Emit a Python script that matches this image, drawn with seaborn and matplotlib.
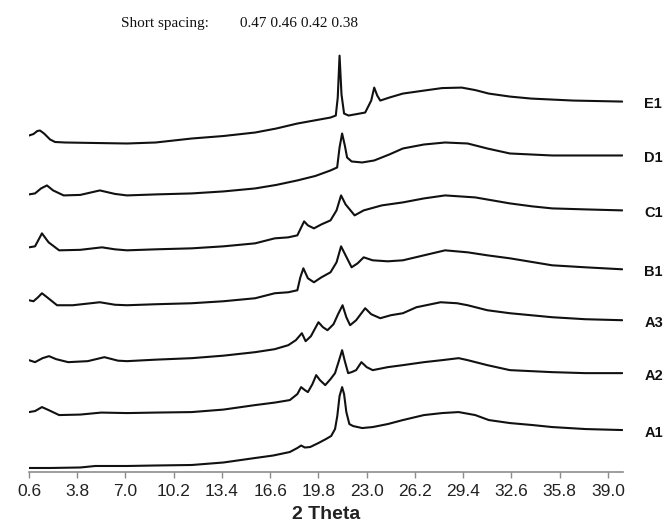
# XRD patterns, stacked

import numpy as np
import pandas as pd
import matplotlib
matplotlib.use("Agg")
import matplotlib.pyplot as plt
import seaborn as sns

# Data (2 theta in degrees, intensity in a.u. above each curve's own baseline)

samples = ["A1", "A2", "A3", "B1", "C1", "D1", "E1"]
offset_step = 550

theta_a1 = [0.6, 2.0, 4.0, 5.0, 7.1, 9.0, 11.4, 13.5, 15.6, 16.8, 17.9, 18.4, 18.65, 18.9, 19.25, 19.8,
            20.3, 20.64, 20.9, 21.05, 21.2, 21.37, 21.5, 21.65, 21.85, 22.1, 22.7, 23.4, 24.4, 25.4,
            26.8, 28.0, 29.1, 30.2, 31.1, 32.5, 34.0, 35.3, 37.5, 39.95]
int_a1 = [40, 40, 45, 60, 60, 65, 70, 95, 140, 165, 200, 240, 265, 245, 250, 290,
          330, 360, 430, 560, 760, 850, 780, 600, 480, 460, 440, 450, 480, 520,
          570, 590, 600, 570, 520, 490, 470, 450, 430, 420]

theta_a2 = [0.6, 1.0, 1.46, 1.9, 2.6, 4.0, 5.4, 7.1, 9.0, 11.4, 13.5, 15.6, 16.9, 17.9, 18.4, 18.65,
            18.9, 19.1, 19.4, 19.65, 19.9, 20.25, 20.6, 20.9, 21.15, 21.37, 21.55, 21.77, 22.0, 22.3,
            22.65, 23.0, 23.4, 24.4, 25.4, 26.8, 28.0, 29.1, 29.7, 31.0, 32.5, 35.3, 37.5, 39.95]
int_a2 = [50, 60, 100, 70, 20, 25, 45, 40, 45, 50, 75, 120, 145, 170, 230, 300,
          270, 250, 330, 420, 370, 320, 380, 440, 560, 670, 560, 440, 450, 470,
          550, 500, 470, 500, 520, 550, 570, 590, 570, 520, 470, 450, 440, 440]

theta_a3 = [0.6, 1.0, 1.5, 1.93, 2.4, 3.2, 4.5, 5.6, 6.5, 7.1, 9.0, 11.4, 13.5, 15.6, 16.9, 17.8,
            18.3, 18.7, 18.95, 19.3, 19.8, 20.1, 20.4, 20.8, 21.1, 21.4, 21.65, 21.9, 22.3, 22.9,
            23.3, 23.9, 24.6, 25.4, 26.3, 27.9, 29.0, 29.7, 31.0, 32.5, 35.3, 37.5, 39.95]
int_a3 = [20, 0, 40, 60, 30, 0, 10, 50, 15, 10, 25, 40, 65, 100, 130, 170,
          220, 290, 210, 260, 400, 350, 320, 380, 480, 570, 450, 370, 420, 540,
          480, 440, 470, 490, 550, 600, 590, 570, 520, 490, 450, 430, 420]

theta_b1 = [0.6, 0.9, 1.2, 1.46, 1.8, 2.46, 3.5, 5.3, 6.3, 7.1, 9.0, 11.4, 13.5, 15.6, 16.9, 17.8,
            18.4, 18.6, 18.8, 19.1, 19.5, 20.0, 20.6, 21.0, 21.3, 21.6, 22.0, 22.4, 22.8, 23.4,
            24.4, 25.4, 26.8, 28.2, 29.7, 31.0, 32.5, 35.3, 37.5, 39.95]
int_b1 = [70, 60, 100, 140, 100, 20, 20, 50, 25, 20, 30, 40, 60, 90, 140, 150,
          170, 300, 390, 290, 250, 300, 350, 450, 610, 520, 400, 440, 500, 470,
          460, 470, 520, 570, 550, 520, 490, 420, 400, 380]

theta_c1 = [0.6, 1.0, 1.46, 1.9, 2.6, 4.0, 5.44, 6.3, 7.1, 9.0, 11.4, 13.5, 15.6, 16.9, 17.8, 18.4,
            18.85, 19.1, 19.5, 20.0, 20.6, 21.0, 21.3, 21.6, 22.2, 22.8, 24.0, 25.4, 26.8, 28.2,
            30.2, 32.5, 34.0, 35.3, 37.5, 39.95]
int_c1 = [50, 60, 190, 100, 20, 25, 50, 30, 20, 30, 40, 60, 90, 140, 150, 170,
          310, 270, 240, 280, 320, 420, 570, 480, 370, 420, 470, 500, 540, 570,
          550, 490, 460, 440, 430, 420]

theta_d1 = [0.6, 1.0, 1.4, 1.79, 2.2, 2.9, 4.0, 5.3, 6.3, 7.1, 9.0, 11.4, 13.5, 15.6, 17.0, 18.4,
            19.6, 20.6, 21.04, 21.2, 21.37, 21.55, 21.7, 22.0, 22.7, 23.5, 24.5, 25.4, 26.8, 28.2,
            29.7, 31.0, 32.5, 35.3, 37.5, 39.95]
int_d1 = [30, 40, 90, 120, 70, 20, 25, 70, 35, 20, 30, 40, 60, 90, 125, 170,
          215, 270, 300, 500, 640, 520, 400, 360, 350, 370, 430, 490, 530, 550,
          540, 490, 440, 420, 420, 420]

theta_e1 = [0.6, 0.9, 1.15, 1.33, 1.6, 2.0, 2.33, 3.0, 5.0, 7.1, 9.0, 11.4, 13.5, 15.6, 17.0, 18.4,
            19.5, 20.6, 20.95, 21.08, 21.2, 21.33, 21.5, 21.8, 22.9, 23.3, 23.5, 23.7, 23.9, 24.5,
            25.4, 26.8, 28.0, 29.3, 30.2, 31.1, 32.5, 33.9, 36.7, 39.95]
int_e1 = [70, 85, 115, 120, 90, 30, 5, 0, -5, -10, 0, 40, 65, 100, 140, 190,
          220, 250, 270, 450, 870, 480, 290, 270, 300, 420, 550, 470, 420, 450,
          490, 520, 545, 550, 525, 490, 460, 440, 420, 410]

x_ticks = [0.6, 3.8, 7.0, 10.2, 13.4, 16.6, 19.8, 23.0, 26.2, 29.4, 32.6, 35.8, 39.0]
spacing_text = "Short spacing:        0.47 0.46 0.42 0.38"

# Build long table

curves = [
    (theta_a1, int_a1),
    (theta_a2, int_a2),
    (theta_a3, int_a3),
    (theta_b1, int_b1),
    (theta_c1, int_c1),
    (theta_d1, int_d1),
    (theta_e1, int_e1),
]

frames = []
for i, (name, (tt, ii)) in enumerate(zip(samples, curves)):
    frames.append(pd.DataFrame({
        "theta": tt,
        "intensity": np.array(ii) + i * offset_step,
        "sample": name
    }))
df = pd.concat(frames, ignore_index=True)

# Plot

sns.set_theme(style="white")
plt.rcParams["font.family"] = ["Liberation Sans", "DejaVu Sans"]

fig = plt.figure(figsize=(6.68, 5.26), dpi=100)
ax = fig.add_axes([0.0434, 0.1027, 0.8892, 0.82])

sns.lineplot(
    data=df,
    x="theta",
    y="intensity",
    hue="sample",
    palette=["#111111"] * len(samples),
    legend=False,
    estimator=None,
    sort=False,
    linewidth=1.5,
    ax=ax
)

for name, grp in df.groupby("sample", sort=False):
    ax.annotate(
        name,
        xy=(grp["theta"].iloc[-1], grp["intensity"].iloc[-1]),
        xytext=(16, -2),
        textcoords="offset points",
        ha="left",
        va="center",
        fontsize=10.5,
        fontweight="bold",
        color="#111111",
        annotation_clip=False
    )

ax.set_xlim(0.6, 40.0)
ax.set_ylim(0, 4320)
ax.set_xticks(x_ticks)
ax.set_xticklabels([f"{t:.1f}" for t in x_ticks], fontsize=12.5, color="#222222")
ax.set_yticks([])
ax.set_ylabel("")
ax.set_xlabel("2 Theta", fontsize=14, fontweight="bold", color="#222222", labelpad=5)

for side in ["left", "top", "right"]:
    ax.spines[side].set_visible(False)
ax.spines["bottom"].set_color("#8c8c8c")
ax.spines["bottom"].set_linewidth(1.2)
ax.tick_params(axis="x", bottom=True, direction="out", length=4, width=1, color="#8c8c8c", pad=5)

fig.text(121 / 668, 1 - 24 / 526, spacing_text, family="Liberation Serif",
         fontsize=11, va="center", ha="left", color="#111111")

fig.savefig("out.png", dpi=100)
